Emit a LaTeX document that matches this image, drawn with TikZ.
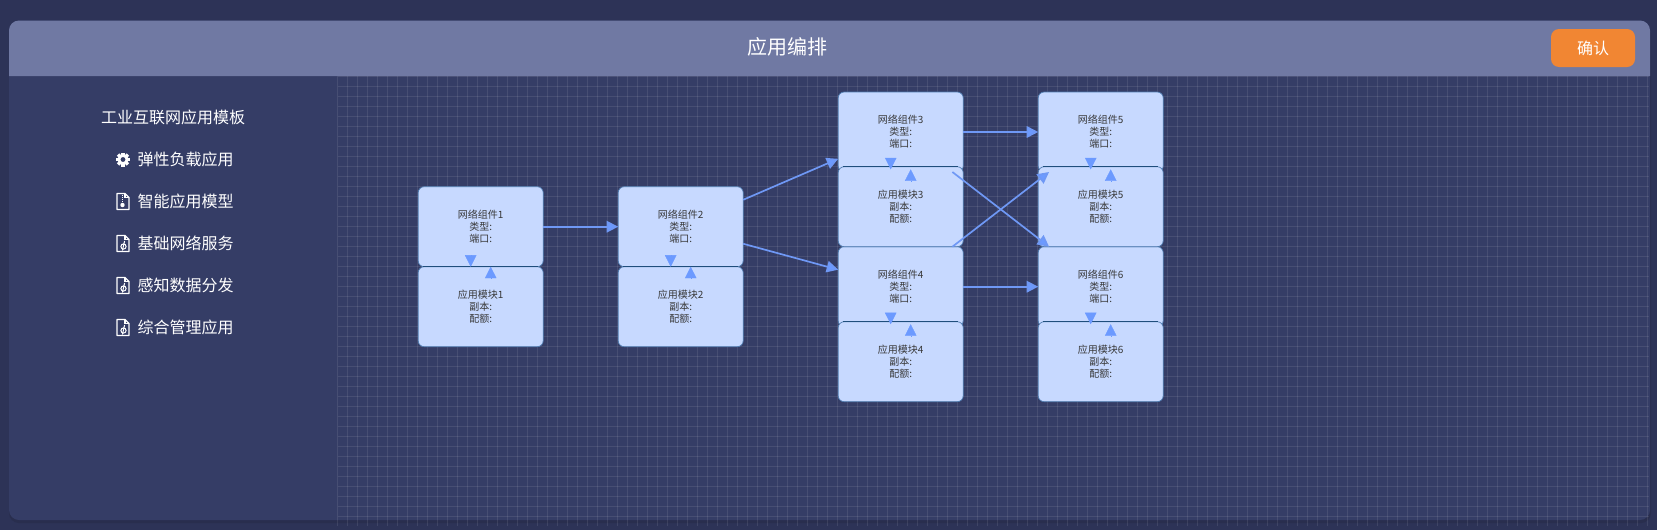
\documentclass[tikz,border=0pt]{standalone}
\usepackage{fontspec}
\setmainfont{Noto Sans CJK SC}
\usepackage{xcolor}
\usetikzlibrary{arrows.meta,calc}
\definecolor{pageblue}{HTML}{2D3357}
\definecolor{panelblue}{HTML}{353D66}
\definecolor{headblue}{HTML}{7079A3}
\definecolor{cardblue}{HTML}{C7D9FF}
\definecolor{cardline}{HTML}{4F7CB0}
\definecolor{cardtop}{HTML}{1F4E7C}
\definecolor{flowblue}{HTML}{6F98F5}
\definecolor{tipblue}{HTML}{6C9AFF}
\definecolor{btnorange}{HTML}{F18633}
\tikzset{card/.style={shape=rectangle,rounded corners=6pt,draw=cardline,line width=.7pt,fill=cardblue,
	minimum width=125pt,minimum height=80pt,inner sep=0pt,outer sep=0pt,align=center,
	text=black!78,font=\fontsize{10}{12}\selectfont}}
\tikzset{menuitem/.style={text=white,inner sep=0pt,font=\fontsize{16}{18}\selectfont}}
\tikzset{flow/.style={draw=flowblue,line width=1.7pt,-{Triangle[length=11.5pt,width=11.5pt,fill=tipblue]}}}
\tikzset{marker/.style={draw=tipblue,line width=.3pt,-{Triangle[length=11.5pt,width=11.5pt,fill=tipblue]}}}
\tikzset{gridline/.style={draw=white,draw opacity=.09,line width=.9pt}}
\tikzset{gearicon/.pic={
	\foreach \a in {0,45,...,315}
		\fill[white,rotate=\a] (-1.6,-7) rectangle (1.6,0);
	\fill[white] (0,0) circle (5.6);
	\fill[panelblue] (0,0) circle (2.4);
}}
\tikzset{filepage/.pic={
	\draw[white,line width=1.3pt,line join=round] (-6,-8) -- (2,-8) -- (6,-4) -- (6,8) -- (-6,8) -- cycle;
	\draw[white,line width=1.1pt] (2,-8) -- (2,-4) -- (6,-4);
}}
\tikzset{zipicon/.pic={
	\pic {filepage};
	\draw[white,line width=1.3pt,densely dotted] (-.5,-7) -- (-.5,0);
	\fill[white] (-.5,3.5) circle (2.2);
}}
\tikzset{codeicon/.pic={
	\pic {filepage};
	\draw[white,line width=1pt] (.5,3) circle (2.6);
	\draw[white,line width=1pt] (1.6,-2.5) -- (-.6,7);
}}

\begin{document}
\begin{tikzpicture}[x=1pt,y=-1pt]
	\useasboundingbox[fill=pageblue] (0,0) rectangle (1657,530);
	% panel
	\fill[pageblue!90!black,rounded corners=10pt] (9,24) rectangle (1651,523);
	\fill[panelblue,rounded corners=10pt] (9,20.5) rectangle (1650,520);
	\foreach \x in {0,...,131}
		\draw[gridline] (337.5+10*\x,76) -- (337.5+10*\x,526);
	\foreach \y in {0,...,44}
		\draw[gridline] (337.5,76.5+10*\y) -- (1649,76.5+10*\y);
	\fill[headblue] (9,76) [rounded corners=10pt] -- (9,20.5) -- (1650,20.5) [sharp corners] -- (1650,76) -- cycle;
	%
	\node[text=white,inner sep=0pt,font=\fontsize{20}{22}\selectfont] (title) at (787,46.5) {应用编排};
	\node[fill=btnorange,text=white,rounded corners=8pt,minimum width=84pt,minimum height=38pt,inner sep=0pt,font=\fontsize{16}{18}\selectfont] (confirm) at (1593,48) {确认};
	% side menu
	\node[menuitem] (tmpl) at (173,117.5) {工业互联网应用模板};
	\node[menuitem,anchor=west] (item1) at (137.5,159.5) {弹性负载应用};
	\node[menuitem,anchor=west] (item2) at (137.5,201.5) {智能应用模型};
	\node[menuitem,anchor=west] (item3) at (137.5,243.5) {基础网络服务};
	\node[menuitem,anchor=west] (item4) at (137.5,285.5) {感知数据分发};
	\node[menuitem,anchor=west] (item5) at (137.5,327.5) {综合管理应用};
	\pic at (123,159.5) {gearicon};
	\pic at (123,201.5) {zipicon};
	\pic at (123,243.5) {codeicon};
	\pic at (123,285.5) {codeicon};
	\pic at (123,327.5) {codeicon};
	% cards
	\node[card] (net1) at (480.7,226.7) {网络组件1\\类型:\\端口:};
	\node[card] (net2) at (680.7,226.7) {网络组件2\\类型:\\端口:};
	\node[card] (net3) at (900.7,132) {网络组件3\\类型:\\端口:};
	\node[card] (net4) at (900.7,286.7) {网络组件4\\类型:\\端口:};
	\node[card] (net5) at (1100.7,132) {网络组件5\\类型:\\端口:};
	\node[card] (net6) at (1100.7,286.7) {网络组件6\\类型:\\端口:};
	\node[card] (mod1) at (480.7,306.7) {应用模块1\\副本:\\配额:};
	\node[card] (mod2) at (680.7,306.7) {应用模块2\\副本:\\配额:};
	\node[card] (mod3) at (900.7,206.7) {应用模块3\\副本:\\配额:};
	\node[card] (mod4) at (900.7,361.7) {应用模块4\\副本:\\配额:};
	\node[card] (mod5) at (1100.7,206.7) {应用模块5\\副本:\\配额:};
	\node[card] (mod6) at (1100.7,361.7) {应用模块6\\副本:\\配额:};
	%
	\foreach \i in {1,...,6}
		\draw[cardtop,line width=.8pt] ([xshift=5pt]mod\i.north west) -- ([xshift=-5pt]mod\i.north east);
	%
	\path[flow]
	(net1) edge (net2)
	(net2) edge (net3)
	(net2) edge (net4)
	(net3) edge (net5)
	(net3) edge (net6)
	(net4) edge (net5)
	(net4) edge (net6);
	%
	\foreach \i in {1,...,6} {
		\coordinate (gap\i) at ($(net\i.south)!.5!(mod\i.north)$);
		\draw[marker] ([shift={(-10pt,11.5pt)}]gap\i) -- ([xshift=-10pt]gap\i);
		\draw[marker] ([shift={(10pt,-11.5pt)}]gap\i) -- ([xshift=10pt]gap\i);
	}
\end{tikzpicture}
\end{document}
